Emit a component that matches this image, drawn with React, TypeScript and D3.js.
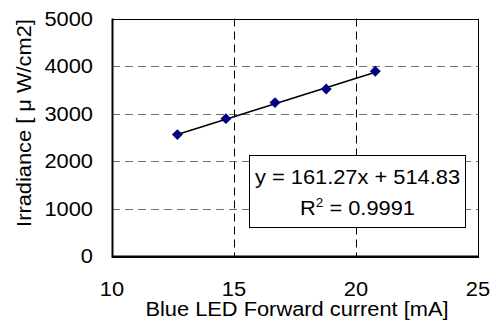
import React from 'react';
import * as d3 from 'd3';

const current = [12.68, 14.67, 16.68, 18.78, 20.79];
const irradiance = [2556, 2892, 3229, 3516, 3888];

const xTicks = [10, 15, 20, 25];
const yTicks = [0, 1000, 2000, 3000, 4000, 5000];

// linear trendline as reported in the chart
const slope = 161.27;
const intercept = 514.83;
const rSquared = '0.9991';

const W = 496;
const H = 327;
const plot = { left: 112, right: 478, top: 18.5, bottom: 256 };
const font = '"Liberation Sans", Arial, sans-serif';
const fontSize = 19.5;
const stretch = 1.12;

const Label: React.FC<{ x: number; y: number; anchor?: string; rotate?: number; children: React.ReactNode }> = ({
  x, y, anchor = 'middle', rotate = 0, children,
}) => (
  <g transform={`translate(${x},${y}) rotate(${rotate}) scale(${stretch},1)`}>
    <text textAnchor={anchor} fontFamily={font} fontSize={fontSize} fill="#000">
      {children}
    </text>
  </g>
);

// snap a coordinate to the pixel grid so 1px lines stay crisp
const px = (v: number) => Math.round(v) + 0.5;

export default function App() {
  const x = d3.scaleLinear().domain([10, 25]).range([plot.left, plot.right]);
  const y = d3.scaleLinear().domain([0, 5000]).range([plot.bottom, plot.top]);

  const points = current.map((c, i) => ({ c, v: irradiance[i] }));
  const xExtent = d3.extent(current) as [number, number];
  const trend = d3.line<number>()
    .x(d => x(d))
    .y(d => y(slope * d + intercept))(xExtent) || '';

  const diamond = d3.symbol().type(d3.symbolDiamond2).size(76)() || '';

  return (
    <svg width={W} height={H} style={{ position: 'absolute', left: 0, top: 0, background: '#fff' }}>
      {/* gridlines */}
      {yTicks.slice(1, -1).map(t => (
        <line key={`gy${t}`} x1={plot.left} x2={plot.right} y1={px(y(t))} y2={px(y(t))}
          stroke="#707070" strokeWidth={1} strokeDasharray="8,5" />
      ))}
      {xTicks.slice(1, -1).map(t => (
        <line key={`gx${t}`} x1={px(x(t))} x2={px(x(t))} y1={plot.top} y2={plot.bottom}
          stroke="#000" strokeWidth={1} strokeDasharray="8,5" />
      ))}

      {/* frame */}
      <rect x={px(plot.left)} y={px(plot.top)} width={Math.round(plot.right - plot.left)}
        height={Math.round(plot.bottom - plot.top)} fill="none" stroke="#000" strokeWidth={1} />
      <line x1={plot.left + 0.5} x2={plot.left + 0.5} y1={plot.top} y2={plot.bottom + 2} stroke="#000" strokeWidth={2} />
      <line x1={plot.left} x2={plot.right} y1={plot.bottom + 0.5} y2={plot.bottom + 0.5} stroke="#000" strokeWidth={2} />

      {/* trendline and markers */}
      <path d={trend} fill="none" stroke="#000" strokeWidth={1.6} />
      {points.map((p, i) => (
        <path key={i} d={diamond} transform={`translate(${x(p.c)},${y(p.v)})`} fill="#000080" />
      ))}

      {/* tick labels */}
      {yTicks.map(t => (
        <Label key={`ly${t}`} x={93} y={y(t) + 7} anchor="end">{t}</Label>
      ))}
      {xTicks.map(t => (
        <Label key={`lx${t}`} x={x(t)} y={296}>{t}</Label>
      ))}

      {/* axis titles */}
      <Label x={297} y={316}>Blue LED Forward current [mA]</Label>
      <Label x={31} y={123} rotate={-90}>Irradiance [ μ W/cm2]</Label>

      {/* trendline equation box */}
      <rect x={249.5} y={155.5} width={216} height={72} fill="#fff" stroke="#000" strokeWidth={1} />
      <Label x={357.5} y={184}>{`y = ${slope}x + ${intercept}`}</Label>
      <Label x={357.5} y={215}>
        R<tspan dy={-8} fontSize={12}>2</tspan><tspan dy={8}>{` = ${rSquared}`}</tspan>
      </Label>
    </svg>
  );
}
